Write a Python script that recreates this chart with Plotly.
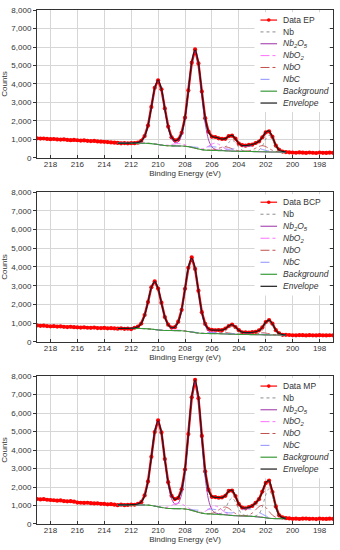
import plotly.graph_objects as go

# ---------------- grids ----------------
energy = [round(219 - 0.25 * j, 2) for j in range(89)]        # measured data grid (eV)
fit_energy = [round(213 - 0.25 * i, 2) for i in range(51)]    # fit window grid (eV)

samples = ["EP", "BCP", "MP"]
x_ticks = [218, 216, 214, 212, 210, 208, 206, 204, 202, 200, 198]
y_ticks = [0, 1000, 2000, 3000, 4000, 5000, 6000, 7000, 8000]

# ---------------- EP ----------------
data_ep = [1065, 1048, 1052, 1030, 1018, 1025, 1003, 996, 1005, 978, 962, 975, 958, 940, 948, 925, 912, 920, 895, 880, 874, 860, 842, 830,
           812, 790, 805, 795, 802, 798, 825, 930, 1185, 1750, 2760, 3790, 4200, 3710, 2680, 1700, 1120, 955, 995, 1360, 2180, 3650, 5150,
           5870, 5110, 3590, 2150, 1420, 1150, 1135, 1065, 1030, 1035, 1180, 1205, 1050, 780, 690, 665, 705, 720, 810, 890, 1120, 1380,
           1440, 1145, 670, 440, 345, 320,
           305, 290, 282, 300, 288, 276, 295, 284, 270, 292, 280, 275, 288, 279]
bg_ep = [800, 800, 800, 800, 799, 799, 798, 797, 797, 791, 776, 753, 726, 699, 676, 661, 655, 652, 651, 647, 638, 614, 575, 532, 489,
         450, 426, 417, 407, 403, 398, 392, 384, 377, 371, 366, 361, 358, 355, 351, 348, 344, 340, 336, 331, 326, 323, 321, 320, 320, 320]
nb_ep = [0] * 29 + [6, 18, 60, 210, 462, 600, 462, 210, 60, 18, 6, 9, 27, 90, 315, 693, 900, 693, 315, 90, 27, 9]
nb2o5_ep = [0, 0, 3, 7, 10, 17, 38, 122, 377, 974, 1965, 3019, 3490, 3024, 1976, 990, 403, 180, 222, 584, 1475, 2963, 4544, 5250,
            4541, 2956, 1465, 567, 184, 58, 26, 16, 11, 5] + [0] * 17
nbo2_ep = [0] * 11 + [1, 1, 5, 14, 36, 73, 112, 130, 112, 74, 37, 16, 9, 15, 44, 112, 225, 346, 400, 346, 225, 112, 43, 14, 4, 2, 1, 1] + [0] * 12
nbo_ep = [0] * 24 + [1, 1, 2, 8, 24, 61, 124, 190, 220, 190, 125, 62, 26, 12, 14, 37, 93, 186, 285, 330, 285, 186, 92, 36, 12, 4, 2]
nbc_ep = [0] * 18 + [1, 3, 7, 15, 29, 53, 85, 124, 161, 190, 200, 192, 165, 134, 107, 97, 108, 143, 192, 245, 285, 300, 284, 242,
                     185, 128, 79, 44, 22, 10, 4, 2, 0]

# ---------------- BCP ----------------
data_bcp = [885, 862, 870, 848, 835, 842, 820, 828, 810, 795, 812, 790, 785, 770, 782, 760, 755, 768, 745, 740, 752, 730, 735, 722,
            712, 730, 705, 715, 690, 760, 820, 985, 1440, 2130, 2920, 3240, 2850, 2095, 1330, 925, 770, 790, 1085, 1715, 2840, 3960,
            4510, 3900, 2735, 1590, 965, 690, 645, 625, 640, 630, 720, 845, 930, 795, 630, 515, 510, 495, 525, 540, 620, 775, 1065,
            1165, 975, 630, 455, 385, 382,
            372, 360, 355, 368, 362, 350, 366, 358, 352, 364, 357, 348, 361, 355]
bg_bcp = [720, 720, 720, 720, 720, 720, 719, 718, 713, 702, 685, 665, 645, 628, 617, 612, 610, 609, 607, 600, 584, 559, 530, 501, 476,
          460, 453, 450, 446, 442, 438, 432, 426, 420, 414, 410, 406, 403, 400, 397, 394, 391, 388, 384, 380, 376, 372, 371, 370, 370, 370]
nb_bcp = [0] * 29 + [4, 13, 43, 151, 331, 430, 331, 151, 43, 13, 4, 7, 22, 72, 252, 554, 720, 554, 252, 72, 22, 7]
nb2o5_bcp = [0, 3, 5, 8, 13, 28, 90, 276, 714, 1441, 2214, 2560, 2218, 1449, 726, 296, 133, 166, 437, 1104, 2218, 3402, 3930, 3399,
             2213, 1096, 424, 138, 43, 20, 12, 8, 4] + [0] * 18
nbo2_bcp = [0] * 13 + [1, 3, 8, 17, 26, 30, 26, 17, 8, 3, 2, 3, 10, 25, 51, 78, 90, 78, 51, 25, 10, 3, 1] + [0] * 15
nbo_bcp = [0] * 26 + [1, 3, 8, 20, 41, 63, 73, 63, 41, 20, 9, 4, 5, 12, 31, 62, 95, 110, 95, 62, 31, 12, 4, 1, 1]
nbc_bcp = [0] * 19 + [1, 2, 4, 9, 16, 26, 37, 48, 57, 60, 57, 49, 40, 33, 29, 33, 42, 58, 74, 85, 90, 85, 73, 56, 38, 24, 13, 7,
                      3, 1, 0, 0]

# ---------------- MP ----------------
data_mp = [1352, 1330, 1345, 1310, 1298, 1285, 1262, 1275, 1240, 1228, 1235, 1205, 1160, 1150, 1140, 1150, 1125, 1110, 1118, 1090,
           1085, 1062, 1070, 1045,
           1020, 1045, 1018, 1030, 1050, 1040, 1090, 1180, 1545, 2300, 3630, 4970, 5600, 4950, 3510, 2260, 1525, 1345, 1410, 1880,
           2940, 4860, 6850, 7790, 6800, 4760, 2840, 1840, 1470, 1455, 1420, 1440, 1525, 1790, 1805, 1515, 1070, 890, 850, 915, 975,
           1150, 1340, 1755, 2220, 2350, 1725, 950, 470, 355, 315,
           300, 282, 290, 270, 288, 295, 276, 284, 268, 290, 279, 272, 286, 280]
bg_mp = [1030, 1030, 1030, 1030, 1030, 1030, 1030, 1029, 1026, 1018, 998, 966, 930, 894, 862, 842, 834, 830, 829, 824, 813, 784, 737,
         685, 633, 586, 557, 546, 532, 525, 515, 502, 490, 475, 457, 447, 440, 432, 427, 420, 410, 397, 382, 360, 335, 312, 297, 292,
         290, 290, 290]
nb_mp = [0] * 29 + [10, 29, 96, 336, 739, 960, 739, 336, 96, 29, 10, 16, 48, 160, 560, 1232, 1600, 1232, 560, 160, 48, 16]
nb2o5_mp = [0, 0, 5, 9, 14, 23, 51, 163, 502, 1297, 2618, 4022, 4650, 4029, 2632, 1318, 537, 240, 296, 779, 1967, 3950, 6060, 7000,
            6055, 3941, 1953, 756, 245, 77, 35, 21, 14, 7] + [0] * 17
nbo2_mp = [0] * 9 + [1, 1, 2, 3, 11, 32, 84, 169, 260, 300, 260, 170, 85, 34, 16, 19, 51, 127, 254, 389, 450, 389, 253, 126, 49, 16,
                     5, 2, 1, 1] + [0] * 12
nbo_mp = [0] * 23 + [1, 1, 2, 5, 15, 46, 120, 242, 372, 430, 373, 243, 122, 49, 22, 28, 72, 182, 367, 562, 650, 562, 366, 181, 70,
                     23, 7, 3]
nbc_mp = [0] * 18 + [1, 4, 9, 20, 39, 71, 115, 167, 218, 256, 270, 258, 223, 180, 144, 129, 144, 190, 256, 327, 380, 400, 379, 323,
                     247, 170, 105, 58, 29, 13, 5, 2, 0]

all_data = [data_ep, data_bcp, data_mp]
all_bg = [bg_ep, bg_bcp, bg_mp]
all_components = [
    [nb_ep, nb2o5_ep, nbo2_ep, nbo_ep, nbc_ep],
    [nb_bcp, nb2o5_bcp, nbo2_bcp, nbo_bcp, nbc_bcp],
    [nb_mp, nb2o5_mp, nbo2_mp, nbo_mp, nbc_mp],
]
component_labels = ["Nb", "Nb<sub>2</sub>O<sub>5</sub>", "NbO<sub>2</sub>", "NbO", "NbC"]
component_italic = [False, True, True, True, True]

# ---------------- styles ----------------
FONT = "Liberation Sans, Arial, sans-serif"
DATA_COLOR = "#ff0000"
comp_styles = [("#8c8c8c", "dot"), ("#9b2fa8", "solid"), ("#ff70ff", "dashdot"), ("#c0504d", "dashdot"), ("#8f8fff", "dash")]
BG_COLOR = "#3a9a3a"
ENV_COLOR = "#1a1a1a"
domains = [(0.7121, 1.0), (0.3541, 0.6459), (0.0, 0.2879)]

fig = go.Figure()
shapes = []
annotations = []

for p in range(3):
    xa = "x" if p == 0 else f"x{p + 1}"
    ya = "y" if p == 0 else f"y{p + 1}"
    bg = all_bg[p]
    comps = all_components[p]

    fig.add_trace(go.Scatter(x=energy, y=all_data[p], mode="lines+markers",
                             line=dict(color=DATA_COLOR, width=2.4),
                             marker=dict(color=DATA_COLOR, size=4.2),
                             xaxis=xa, yaxis=ya, showlegend=False, hoverinfo="skip"))
    for comp, (col, dash) in zip(comps, comp_styles):
        fig.add_trace(go.Scatter(x=fit_energy, y=[b + c for b, c in zip(bg, comp)], mode="lines",
                                 line=dict(color=col, width=0.9, dash=dash, shape="spline", smoothing=0.8),
                                 xaxis=xa, yaxis=ya, showlegend=False, hoverinfo="skip"))
    fig.add_trace(go.Scatter(x=fit_energy, y=bg, mode="lines",
                             line=dict(color=BG_COLOR, width=1.1, shape="spline", smoothing=0.8),
                             xaxis=xa, yaxis=ya, showlegend=False, hoverinfo="skip"))
    envelope = [b + sum(c[i] for c in comps) for i, b in enumerate(bg)]
    fig.add_trace(go.Scatter(x=fit_energy, y=envelope, mode="lines",
                             line=dict(color=ENV_COLOR, width=1.2, shape="spline", smoothing=0.8),
                             xaxis=xa, yaxis=ya, showlegend=False, hoverinfo="skip"))
    # empty trace to carry the right-hand tick axis
    fig.add_trace(go.Scatter(x=[], y=[], xaxis=xa, yaxis=f"y{p + 4}", showlegend=False, hoverinfo="skip"))

    axis_common = dict(showline=True, linecolor="#333333", linewidth=1, mirror=True, zeroline=False,
                       showgrid=True, gridcolor="#d6d6d6", gridwidth=1,
                       tickfont=dict(family=FONT, size=8, color="#333333"), tickcolor="#333333",
                       automargin=False)
    fig.layout[f"xaxis{'' if p == 0 else p + 1}"] = dict(
        axis_common, domain=[0, 1], anchor=ya, range=[219, 197], tickvals=x_ticks,
        ticks="inside", ticklen=3, ticklabelstandoff=-2,
        title=dict(text="Binding Energy (eV)", font=dict(family=FONT, size=8, color="#333333"), standoff=0))
    fig.layout[f"yaxis{'' if p == 0 else p + 1}"] = dict(
        axis_common, domain=list(domains[p]), anchor=xa, range=[0, 8000], tickvals=y_ticks,
        tickformat=",", ticks="outside", ticklen=3,
        title=dict(text="Counts", font=dict(family=FONT, size=8, color="#333333"), standoff=5))
    fig.layout[f"yaxis{p + 4}"] = dict(
        overlaying=ya, side="right", anchor=xa, range=[0, 8000], tickvals=y_ticks,
        ticks="inside", ticklen=3, tickcolor="#333333", showticklabels=False,
        showgrid=False, showline=False, zeroline=False)

    # ---- legend (drawn inside the panel) ----
    xr = f"{xa} domain"
    yr = f"{ya} domain"
    shapes.append(dict(type="rect", xref=xr, yref=yr, x0=0.735, x1=0.985, y0=0.31, y1=0.985,
                       fillcolor="white", line=dict(width=0), layer="above"))
    labels = [f"Data {samples[p]}"] + component_labels + ["Background", "Envelope"]
    italic = [False] + component_italic + [True, True]
    styles = [(DATA_COLOR, "solid")] + comp_styles + [(BG_COLOR, "solid"), (ENV_COLOR, "solid")]
    for k, (lab, it, (col, dash)) in enumerate(zip(labels, italic, styles)):
        yc = 0.932 - 0.0801 * k
        shapes.append(dict(type="line", xref=xr, yref=yr, x0=0.755, x1=0.811, y0=yc, y1=yc,
                           line=dict(color=col, width=1.2 if k in (0, 6, 7) else 1, dash=dash), layer="above"))
        if k == 0:
            shapes.append(dict(type="circle", xref=xr, yref=yr, xsizemode="pixel", ysizemode="pixel",
                               xanchor=0.783, yanchor=yc, x0=-1.8, x1=1.8, y0=-1.8, y1=1.8,
                               fillcolor=DATA_COLOR, line=dict(color=DATA_COLOR, width=0), layer="above"))
        annotations.append(dict(xref=xr, yref=yr, x=0.826, y=yc, text=lab, showarrow=False,
                                xanchor="left", yanchor="middle",
                                font=dict(family=FONT, size=8.5, color="#333333",
                                          style="italic" if it else "normal")))

fig.update_layout(
    width=340, height=550,
    margin=dict(l=37, r=7, t=10, b=26),
    paper_bgcolor="white", plot_bgcolor="white",
    showlegend=False,
    shapes=shapes, annotations=annotations,
    font=dict(family=FONT, size=8, color="#333333"),
)

fig.write_html("out.html", config={"displayModeBar": False},
               post_script="document.body.style.margin='0px';")
